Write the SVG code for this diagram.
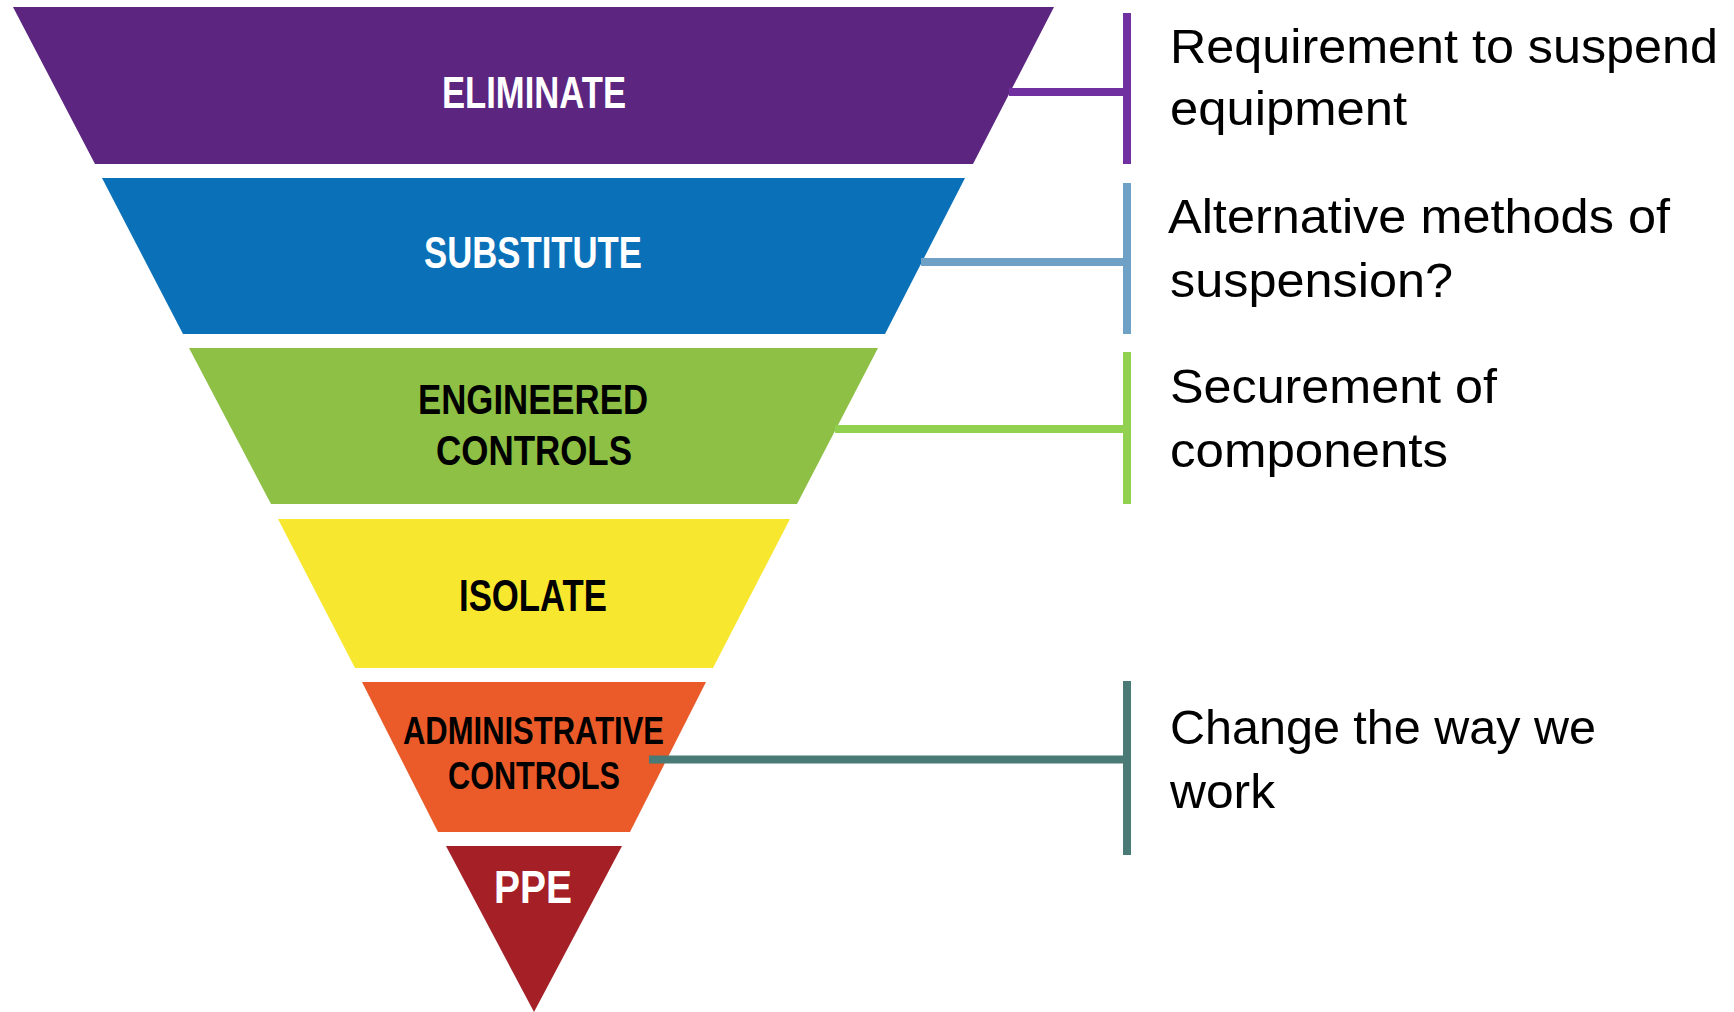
<svg xmlns="http://www.w3.org/2000/svg" width="1734" height="1012" viewBox="0 0 1734 1012">
  <style>
    .tier-label { font-family: "Liberation Sans", Arial, sans-serif; font-weight: bold; text-anchor: middle; }
    .note { font-family: "Liberation Sans", Arial, sans-serif; font-size: 48px; fill: #000; }
    .link { fill: none; stroke-width: 8; stroke-linecap: butt; }
  </style>

  <rect width="1734" height="1012" fill="#ffffff"/>

  <!-- Hierarchy tiers (inverted triangle, top to bottom) -->
  <g id="tier-eliminate">
    <polygon points="13,7 1054,7 973,164 95,164" fill="#5B2580"/>
    <text class="tier-label" x="534" y="108" font-size="44" fill="#ffffff" textLength="184" lengthAdjust="spacingAndGlyphs">ELIMINATE</text>
  </g>
  <g id="tier-substitute">
    <polygon points="102,178 965,178 885,334 183,334" fill="#0A71B9"/>
    <text class="tier-label" x="533" y="268" font-size="44" fill="#ffffff" textLength="218" lengthAdjust="spacingAndGlyphs">SUBSTITUTE</text>
  </g>
  <g id="tier-engineered">
    <polygon points="189,348 878,348 797,504 271,504" fill="#8DC044"/>
    <text class="tier-label" x="533" y="414" font-size="42" fill="#000000" textLength="230" lengthAdjust="spacingAndGlyphs">ENGINEERED</text>
    <text class="tier-label" x="534" y="465" font-size="42" fill="#000000" textLength="196" lengthAdjust="spacingAndGlyphs">CONTROLS</text>
  </g>
  <g id="tier-isolate">
    <polygon points="278,519 790,519 713,668 355,668" fill="#F7E72F"/>
    <text class="tier-label" x="533" y="611" font-size="44" fill="#000000" textLength="148" lengthAdjust="spacingAndGlyphs">ISOLATE</text>
  </g>
  <g id="tier-administrative">
    <polygon points="362,682 706,682 630,832 438,832" fill="#EB5B29"/>
    <text class="tier-label" x="533.5" y="744" font-size="38" fill="#000000" textLength="261" lengthAdjust="spacingAndGlyphs">ADMINISTRATIVE</text>
    <text class="tier-label" x="534" y="789" font-size="38" fill="#000000" textLength="172" lengthAdjust="spacingAndGlyphs">CONTROLS</text>
  </g>
  <g id="tier-ppe">
    <polygon points="446,846 622,846 534,1012" fill="#A51F27"/>
    <text class="tier-label" x="533" y="903" font-size="46" fill="#ffffff" textLength="78" lengthAdjust="spacingAndGlyphs">PPE</text>
  </g>

  <!-- Bracket connectors from tiers to notes -->
  <g id="connectors">
    <path class="link" stroke="#7030A0" d="M1009,92 H1127 M1127,13 V164"/>
    <path class="link" stroke="#6FA1C6" d="M921,262 H1127 M1127,183 V334"/>
    <path class="link" stroke="#92D050" d="M835,429 H1127 M1127,352 V504"/>
    <path class="link" stroke="#4A7A76" d="M649,759.5 H1127 M1127,681 V855"/>
  </g>

  <!-- Notes -->
  <g id="note-eliminate">
    <text class="note" x="1170" y="63" textLength="548" lengthAdjust="spacingAndGlyphs">Requirement to suspend</text>
    <text class="note" x="1170" y="125" textLength="237" lengthAdjust="spacingAndGlyphs">equipment</text>
  </g>
  <g id="note-substitute">
    <text class="note" x="1168" y="233" textLength="502" lengthAdjust="spacingAndGlyphs">Alternative methods of</text>
    <text class="note" x="1170" y="297" textLength="283" lengthAdjust="spacingAndGlyphs">suspension?</text>
  </g>
  <g id="note-engineered">
    <text class="note" x="1170" y="403" textLength="327" lengthAdjust="spacingAndGlyphs">Securement of</text>
    <text class="note" x="1170" y="467" textLength="278" lengthAdjust="spacingAndGlyphs">components</text>
  </g>
  <g id="note-administrative">
    <text class="note" x="1170" y="744" textLength="426" lengthAdjust="spacingAndGlyphs">Change the way we</text>
    <text class="note" x="1170" y="808" textLength="105" lengthAdjust="spacingAndGlyphs">work</text>
  </g>
</svg>
